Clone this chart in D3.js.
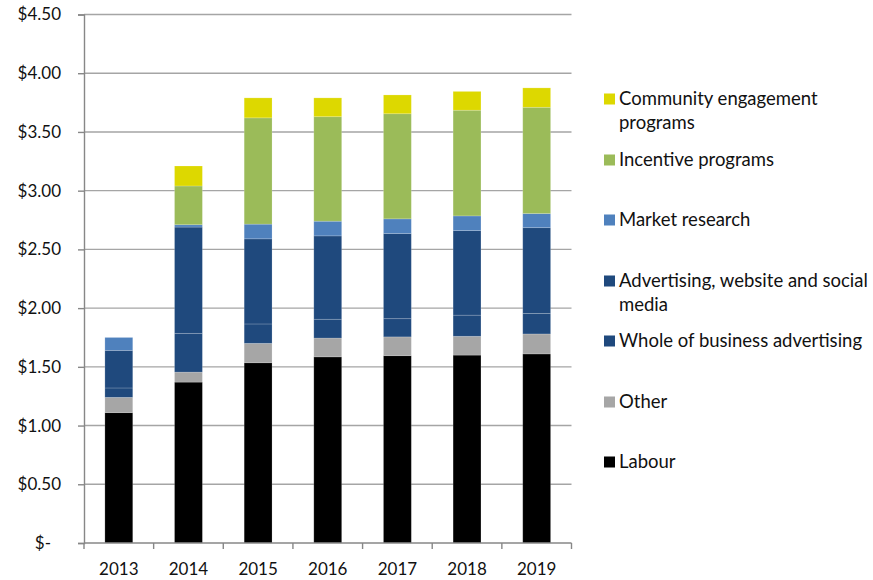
<!DOCTYPE html>
<html>
<head>
<meta charset="utf-8">
<script src="https://cdn.jsdelivr.net/npm/d3@7"></script>
<style>
  html, body { margin: 0; padding: 0; background: #ffffff; }
  svg { display: block; }
  text { font-family: Lato, "Open Sans", sans-serif; fill: #111111; }
</style>
</head>
<body>
<svg id="chart" width="873" height="580"></svg>
<script>
// Years on the x axis
const years = ["2013", "2014", "2015", "2016", "2017", "2018", "2019"];

// Cost per unit, by component ($)
const labour      = [1.11, 1.37, 1.535, 1.585, 1.595, 1.60, 1.61];
const other       = [0.13, 0.085, 0.165, 0.16, 0.16, 0.16, 0.17];
const wholeOfBusinessAdvertising = [0.08, 0.33, 0.165, 0.16, 0.155, 0.18, 0.175];
const advertisingWebSocial = [0.32, 0.905, 0.725, 0.71, 0.725, 0.72, 0.73];
const marketResearch = [0.11, 0.02, 0.125, 0.125, 0.125, 0.125, 0.12];
const incentivePrograms = [0, 0.33, 0.905, 0.89, 0.895, 0.90, 0.905];
const communityEngagement = [0, 0.17, 0.17, 0.16, 0.16, 0.16, 0.165];

// Y axis ticks
const yTicks = [0, 0.5, 1, 1.5, 2, 2.5, 3, 3.5, 4, 4.5];

// Series, bottom of stack first
const series = [
  { key: "Labour", values: labour, color: "#000000" },
  { key: "Other", values: other, color: "#a6a6a6" },
  { key: "Whole of business advertising", values: wholeOfBusinessAdvertising, color: "#1f497d" },
  { key: "Advertising, website and social media", values: advertisingWebSocial, color: "#1f497d" },
  { key: "Market research", values: marketResearch, color: "#4f81bd" },
  { key: "Incentive programs", values: incentivePrograms, color: "#9bbb59" },
  { key: "Community engagement programs", values: communityEngagement, color: "#ddd800" }
];

const table = years.map((yr, i) => {
  const row = { year: yr };
  series.forEach(s => { row[s.key] = s.values[i]; });
  return row;
});

const svg = d3.select("#chart");
const plotLeft = 84, plotRight = 571.5, plotTop = 14.5, plotBottom = 543;

const x = d3.scaleBand().domain(years).range([plotLeft, plotRight]).paddingInner(0.6).paddingOuter(0.3);
const y = d3.scaleLinear().domain([0, 4.5]).range([plotBottom, plotTop]);

// Horizontal gridlines
svg.append("g")
  .selectAll("line")
  .data(yTicks.filter(d => d > 0))
  .join("line")
  .attr("x1", plotLeft).attr("x2", plotRight)
  .attr("y1", d => y(d)).attr("y2", d => y(d))
  .attr("stroke", "#a5a5a5")
  .attr("stroke-width", 1.4);

// Stacked bars
const stack = d3.stack().keys(series.map(s => s.key));
const layers = stack(table);

svg.append("g")
  .selectAll("g")
  .data(layers)
  .join("g")
  .attr("fill", (d, i) => series[i].color)
  .selectAll("rect")
  .data(d => d.filter(p => p[1] - p[0] > 0))
  .join("rect")
  .attr("x", d => x(d.data.year))
  .attr("width", x.bandwidth())
  .attr("y", d => y(d[1]))
  .attr("height", d => y(d[0]) - y(d[1]))
  .attr("stroke", "rgba(255,255,255,0.22)")
  .attr("stroke-width", 0.8);

// Y axis
const fmt = d => d === 0 ? "$-" : "$" + d3.format(".2f")(d);
const yAxis = svg.append("g")
  .attr("transform", `translate(${plotLeft},0)`)
  .call(d3.axisLeft(y).tickValues(yTicks).tickFormat(fmt).tickSizeOuter(0).tickSize(6).tickPadding(17));
yAxis.select(".domain").attr("stroke", "#878787").attr("stroke-width", 1.4);
yAxis.selectAll(".tick line").attr("stroke", "#878787").attr("stroke-width", 1.4);
yAxis.selectAll(".tick text")
  .style("font-family", "Lato, 'Open Sans', sans-serif")
  .style("font-size", "17px")
  .attr("fill", "#111111")
  .attr("dx", d => d === 0 ? -10 : 0);

// X axis, with ticks on the category boundaries
const xAxisG = svg.append("g").attr("transform", `translate(0,${plotBottom})`);
xAxisG.append("line")
  .attr("x1", plotLeft).attr("x2", plotRight)
  .attr("stroke", "#878787").attr("stroke-width", 1.4);
const bounds = d3.range(years.length + 1).map(i => plotLeft + i * x.step());
xAxisG.selectAll("line.bound")
  .data(bounds)
  .join("line")
  .attr("class", "bound")
  .attr("x1", d => d).attr("x2", d => d)
  .attr("y1", 0).attr("y2", 6)
  .attr("stroke", "#878787").attr("stroke-width", 1.4);
xAxisG.selectAll("text")
  .data(years)
  .join("text")
  .attr("x", d => x(d) + x.bandwidth() / 2)
  .attr("y", 26)
  .attr("dy", "0.35em")
  .attr("text-anchor", "middle")
  .style("font-size", "17px")
  .text(d => d);

// Legend, top entry first
const legendItems = [
  { lines: ["Community engagement", "programs"], color: "#ddd800", cy: 99 },
  { lines: ["Incentive programs"], color: "#9bbb59", cy: 160 },
  { lines: ["Market research"], color: "#4f81bd", cy: 220 },
  { lines: ["Advertising, website and social", "media"], color: "#1f497d", cy: 281 },
  { lines: ["Whole of business advertising"], color: "#1f497d", cy: 341 },
  { lines: ["Other"], color: "#a6a6a6", cy: 402 },
  { lines: ["Labour"], color: "#000000", cy: 462 }
];
const legend = svg.append("g");
const li = legend.selectAll("g").data(legendItems).join("g");
li.append("rect")
  .attr("x", 604).attr("y", d => d.cy - 5.5)
  .attr("width", 11).attr("height", 11)
  .attr("fill", d => d.color);
li.append("text")
  .attr("x", 619)
  .attr("y", d => d.cy)
  .style("font-size", "18.5px")
  .selectAll("tspan")
  .data(d => d.lines)
  .join("tspan")
  .attr("x", 619)
  .attr("dy", (d, i) => i === 0 ? "0.35em" : "24px")
  .text(d => d);
</script>
</body>
</html>
